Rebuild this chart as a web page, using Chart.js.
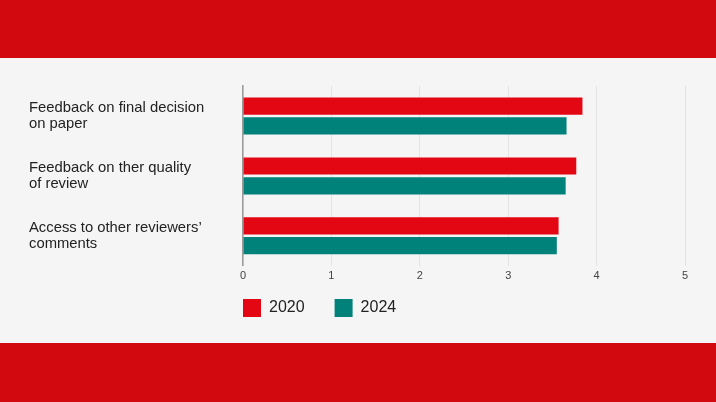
<!DOCTYPE html>
<html>
<head>
<meta charset="utf-8">
<script src="https://cdn.jsdelivr.net/npm/chart.js@4"></script>
<style>
  html, body { margin: 0; padding: 0; width: 716px; height: 402px; overflow: hidden; background: #d20a10; }
  #top { position: absolute; left: 0; top: 0; width: 716px; height: 58px; background: #d20a10; }
  #mid { position: absolute; left: 0; top: 58px; width: 716px; height: 285px; background: #f5f5f5; }
  #bot { position: absolute; left: 0; top: 343px; width: 716px; height: 59px; background: #d20a10; }
  canvas { display: block; }
</style>
</head>
<body>
<div id="top"></div>
<div id="mid"><canvas id="c" width="716" height="285"></canvas></div>
<div id="bot"></div>
<script>
const categories = [
  ["Feedback on final decision", "on paper"],
  ["Feedback on ther quality", "of review"],
  ["Access to other reviewers’", "comments"]
];
const seriesNames = ["2020", "2024"];
const values2020 = [3.84, 3.77, 3.57];
const values2024 = [3.66, 3.65, 3.55];
const xTicks = [0, 1, 2, 3, 4, 5];

const RED = "#e30613";
const TEAL = "#00827a";

// Place the legend flush with the plot's left edge and a bit higher
const legendPlace = {
  id: "legendPlace",
  afterLayout(chart) {
    const lg = chart.legend;
    if (!lg) return;
    const p = lg.options.labels.padding;
    lg.left -= p; lg.right -= p;
    lg.top -= 18; lg.bottom -= 18;
  }
};

new Chart(document.getElementById("c"), {
  type: "bar",
  data: {
    labels: categories,
    datasets: [
      { label: seriesNames[0], data: values2020, backgroundColor: RED, borderWidth: 0,
        categoryPercentage: 0.66, barPercentage: 0.87 },
      { label: seriesNames[1], data: values2024, backgroundColor: TEAL, borderWidth: 0,
        categoryPercentage: 0.66, barPercentage: 0.87 }
    ]
  },
  options: {
    indexAxis: "y",
    responsive: false,
    animation: false,
    layout: { padding: { left: 29, right: 31, top: 28, bottom: -2 } },
    scales: {
      x: {
        min: xTicks[0], max: xTicks[xTicks.length - 1],
        afterBuildTicks: (axis) => { axis.ticks = xTicks.map(v => ({ value: v })); },
        grid: { color: "#e3e3e3", lineWidth: 1, drawTicks: false },
        border: { display: false },
        ticks: { color: "#444", font: { family: "Liberation Sans", size: 11 }, padding: 4 }
      },
      y: {
        grid: { display: false },
        border: { display: true, color: "#9a9a9a", width: 1.5 },
        afterFit: (axis) => { axis.width = 214; },
        ticks: {
          crossAlign: "far",
          color: "#222",
          font: { family: "Liberation Sans", size: 14.8, lineHeight: 1.1 }
        }
      }
    },
    plugins: {
      legend: {
        position: "bottom",
        align: "start",
        fullSize: false,
        labels: {
          boxWidth: 18, boxHeight: 18,
          padding: 30,
          color: "#222",
          font: { family: "Liberation Sans", size: 16 }
        }
      },
      tooltip: { enabled: false }
    }
  },
  plugins: [legendPlace]
});
</script>
</body>
</html>
